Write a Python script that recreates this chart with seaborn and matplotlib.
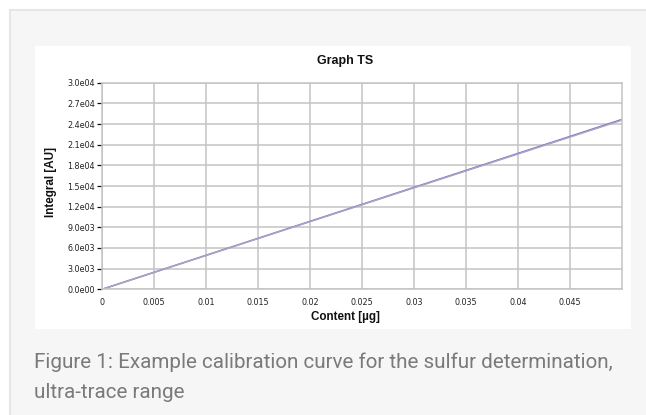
import seaborn as sns
import pandas as pd
import matplotlib.pyplot as plt
from matplotlib.patches import Rectangle

# calibration data
content = [0.0, 0.05]
integral_measured = [0.0, 24650.0]
integral_fit = [0.0, 24550.0]

x_ticks = [0, 0.005, 0.01, 0.015, 0.02, 0.025, 0.03, 0.035, 0.04, 0.045]
x_tick_labels = ['0', '0.005', '0.01', '0.015', '0.02', '0.025', '0.03', '0.035', '0.04', '0.045']
y_ticks = [0, 3000, 6000, 9000, 12000, 15000, 18000, 21000, 24000, 27000, 30000]
y_tick_labels = ['0.0e00', '3.0e03', '6.0e03', '9.0e03', '1.2e04', '1.5e04',
                 '1.8e04', '2.1e04', '2.4e04', '2.7e04', '3.0e04']

df = pd.DataFrame({
    'content': content + content,
    'integral': integral_measured + integral_fit,
    'series': ['measured'] * len(content) + ['fit'] * len(content),
})

sns.set_style('whitegrid')
plt.rcParams['font.family'] = ['DejaVu Sans']

W, H = 646, 415
fig = plt.figure(figsize=(W / 100, H / 100), dpi=100, facecolor='white')

# page background: light grey box with a faint border, white chart panel
fig.patches.append(Rectangle((10 / W, -0.1), 1.2, 1.1 - 10 / H, transform=fig.transFigure,
                             facecolor='#f6f6f6', edgecolor='#e6e6e6', linewidth=1.5, zorder=0))
fig.patches.append(Rectangle((35 / W, 1 - 329 / H), (631 - 35) / W, (329 - 46) / H,
                             transform=fig.transFigure, facecolor='white', edgecolor='none', zorder=1))

ax = fig.add_axes([102 / W, 1 - 289.3 / H, (621.7 - 102) / W, (289.3 - 82.7) / H])
ax.set_zorder(2)

sns.lineplot(data=df, x='content', y='integral', hue='series',
             palette={'measured': '#6f6fd8', 'fit': '#a9a5bd'},
             linewidth=1.1, legend=False, ax=ax)

ax.set_xlim(0, 0.05)
ax.set_ylim(0, 30000)
ax.set_xticks(x_ticks)
ax.set_xticklabels(x_tick_labels)
ax.set_yticks(y_ticks)
ax.set_yticklabels(y_tick_labels)

ax.grid(True, color='#c4c4c4', linewidth=1.1)
for s in ax.spines.values():
    s.set_visible(True)
    s.set_color('#c4c4c4')
    s.set_linewidth(1.1)

ax.tick_params(axis='y', which='both', left=True, length=3.6, width=0.9,
               color='#111111', pad=1.5, labelsize=5.8, labelcolor='#222222')
ax.tick_params(axis='x', which='both', bottom=False, length=0, pad=6,
               labelsize=5.8, labelcolor='#222222')

ax.set_xlabel('')
ax.set_ylabel('')

bold = dict(family='Liberation Sans', weight='bold', color='#111111')
fig.text(345 / W, 1 - 61 / H, 'Graph TS', ha='center', va='center', fontsize=9, **bold)
fig.text(345 / W, 1 - 317 / H, 'Content [µg]', ha='center', va='center', fontsize=8.4, **bold)
fig.text(51 / W, 1 - 182 / H, 'Integral [AU]', ha='center', va='center', rotation=90,
         fontsize=8.4, **bold)

cap = dict(family='Roboto', color='#7a7a7a', fontsize=14.9, ha='left', va='center')
fig.text(34 / W, 1 - 362 / H, 'Figure 1: Example calibration curve for the sulfur determination,', **cap)
fig.text(34 / W, 1 - 392 / H, 'ultra-trace range', **cap)

fig.savefig('out.png', dpi=100, facecolor='white')
